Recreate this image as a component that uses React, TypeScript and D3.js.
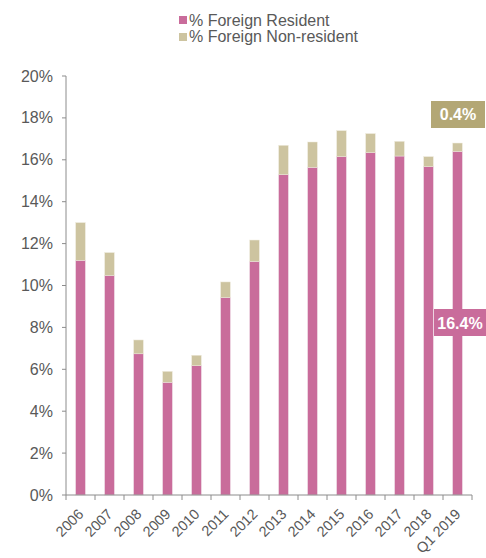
import React from "react";
import * as d3 from "d3";

const categories = ["2006","2007","2008","2009","2010","2011","2012","2013","2014","2015","2016","2017","2018","Q1 2019"];
const resident = [11.2,10.47,6.74,5.38,6.17,9.42,11.15,15.29,15.64,16.15,16.34,16.18,15.67,16.4];
const nonResident = [1.8,1.1,0.66,0.52,0.5,0.75,1.02,1.4,1.21,1.24,0.91,0.7,0.48,0.4];
const yTicks = [0,2,4,6,8,10,12,14,16,18,20];
const seriesNames = ["% Foreign Resident","% Foreign Non-resident"];

const PINK = "#c96c9b";
const BEIGE = "#cdc4a0";
const TEXT = "#595959";
const AXIS = "#8c8c8c";
const FONT = "'Liberation Sans', Arial, sans-serif";

export default function App() {
  const W = 486, H = 558;
  const x0 = 66, x1 = 472, yTop = 76, yBot = 495;
  const x = d3.scaleBand<string>().domain(categories).range([x0, x1]).paddingInner(0.67).paddingOuter(0.335);
  const y = d3.scaleLinear().domain([0, 20]).range([yBot, yTop]);
  const band = (x1 - x0) / categories.length;
  const last = categories.length - 1;

  return (
    <svg width={W} height={H} style={{ position: "absolute", left: 0, top: 0, fontFamily: FONT }}>
      {/* legend */}
      {seriesNames.map((n, i) => (
        <g key={n}>
          <rect x={179} y={16 + i * 17} width={8} height={8} fill={i === 0 ? PINK : BEIGE} />
          <text x={189} y={25.5 + i * 16.5} fontSize={16} fill={TEXT}>{n}</text>
        </g>
      ))}
      {/* y axis */}
      <line x1={x0} x2={x0} y1={yTop} y2={yBot} stroke={AXIS} />
      {yTicks.map((t) => (
        <g key={t}>
          <line x1={x0 - 4} x2={x0} y1={y(t)} y2={y(t)} stroke={AXIS} />
          <text x={53} y={y(t) + 5.5} fontSize={16} fill={TEXT} textAnchor="end">{t}%</text>
        </g>
      ))}
      {/* bars */}
      {categories.map((c, i) => {
        const bx = x(c) as number;
        const total = resident[i] + nonResident[i];
        return (
          <g key={c}>
            <rect x={bx} y={y(resident[i])} width={x.bandwidth()} height={y(0) - y(resident[i])} fill={PINK} stroke="#ead3df" strokeWidth={0.5} />
            <rect x={bx} y={y(total)} width={x.bandwidth()} height={y(resident[i]) - y(total)} fill={BEIGE} stroke="#eeeadb" strokeWidth={0.5} />
          </g>
        );
      })}
      {/* x axis */}
      <line x1={x0} x2={x1} y1={yBot} y2={yBot} stroke={AXIS} />
      {d3.range(categories.length + 1).map((k) => (
        <line key={k} x1={x0 + k * band} x2={x0 + k * band} y1={yBot} y2={yBot + 5} stroke={AXIS} />
      ))}
      {categories.map((c) => {
        const cx = (x(c) as number) + x.bandwidth() / 2;
        return (
          <text key={c} transform={`translate(${cx + 4},${yBot + 20}) rotate(-45)`} fontSize={14.5} fill={TEXT} textAnchor="end">{c}</text>
        );
      })}
      {/* data labels */}
      <rect x={431} y={101} width={54} height={27} fill="#b3a775" />
      <text x={458} y={120} fontSize={16} fontWeight="bold" fill="#fff" textAnchor="middle">{`${nonResident[last].toFixed(1)}%`}</text>
      <rect x={434} y={309} width={52} height={27} fill={PINK} />
      <text x={460} y={328.5} fontSize={16} fontWeight="bold" fill="#fff" textAnchor="middle">{`${resident[last].toFixed(1)}%`}</text>
    </svg>
  );
}
